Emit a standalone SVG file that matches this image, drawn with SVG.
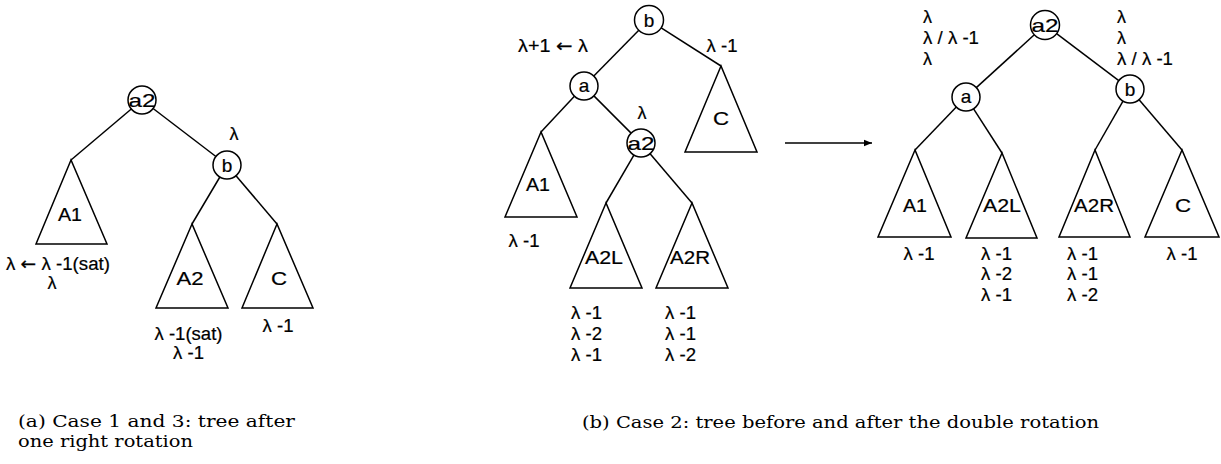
<svg xmlns="http://www.w3.org/2000/svg" width="1221" height="464" viewBox="0 0 1221 464">
<defs>
<marker id="ah" viewBox="0 0 10 10" refX="10" refY="5" markerWidth="8" markerHeight="8" markerUnits="userSpaceOnUse" orient="auto">
<path d="M0,1 L10,5 L0,9 Z" fill="#000"/>
</marker>
<style>
.e{stroke:#000;stroke-width:1.5;fill:none}
.n{stroke:#000;stroke-width:1.5;fill:#fff}
.t{font-family:"Liberation Sans",Arial,sans-serif;font-size:18px;fill:#000;stroke:#000;stroke-width:0.2}
.tn{font-family:"Liberation Sans",Arial,sans-serif;font-size:19px;fill:#000;stroke:#000;stroke-width:0.2;text-anchor:middle}
.m{text-anchor:middle}
.ar{font-family:"DejaVu Sans",sans-serif}
.cap{font-family:"DejaVu Serif","Liberation Serif",serif;font-size:17.5px;fill:#000}
</style>
</defs>
<rect width="1221" height="464" fill="#fff"/>

<g id="connectors">
<line class="e" x1="131.3" y1="109" x2="71" y2="160"/>
<line class="e" x1="153.1" y1="108.5" x2="215.9" y2="156.5"/>
<line class="e" x1="219.9" y1="177" x2="192" y2="224"/>
<line class="e" x1="236" y1="175.7" x2="277" y2="224"/>
<line class="e" x1="638.8" y1="30.3" x2="593.8" y2="76"/>
<line class="e" x1="661.2" y1="27.8" x2="721" y2="66"/>
<line class="e" x1="574.4" y1="96.2" x2="541" y2="132"/>
<line class="e" x1="593.9" y1="95.9" x2="631.1" y2="133.1"/>
<line class="e" x1="633.9" y1="155.1" x2="606" y2="203"/>
<line class="e" x1="650.1" y1="153.7" x2="692" y2="203"/>
<line class="e" x1="785" y1="143" x2="872" y2="143" marker-end="url(#ah)"/>
<line class="e" x1="1034.3" y1="34.8" x2="976.3" y2="87.6"/>
<line class="e" x1="1056.6" y1="33.7" x2="1118.8" y2="80.6"/>
<line class="e" x1="956.3" y1="107.1" x2="915" y2="150"/>
<line class="e" x1="973.6" y1="108.8" x2="1002" y2="153"/>
<line class="e" x1="1123" y1="101.2" x2="1095" y2="150"/>
<line class="e" x1="1139.1" y1="99.7" x2="1182" y2="150"/>
</g>

<g id="a_a2">
<circle class="n" cx="142" cy="100" r="14"/>
<text class="tn" x="142" y="107" textLength="27" lengthAdjust="spacingAndGlyphs">a2</text>
</g>
<g id="a_b">
<circle class="n" cx="227" cy="165" r="14"/>
<text class="tn" x="227" y="172">b</text>
<text class="t m" x="234" y="140">λ</text>
</g>
<g id="a_A1">
<polygon class="n" points="71,160 36,244 107,244"/>
<text class="t m" x="70" y="220.5" textLength="24" lengthAdjust="spacingAndGlyphs">A1</text>
<text class="t m" x="58" y="269.5" textLength="104" lengthAdjust="spacingAndGlyphs">λ <tspan class="ar">←</tspan> λ -1(sat)</text>
<text class="t m" x="52" y="288.5">λ</text>
</g>
<g id="a_A2">
<polygon class="n" points="192,224 156,308 228,308"/>
<text class="t m" x="190" y="284.5" textLength="27" lengthAdjust="spacingAndGlyphs">A2</text>
<text class="t m" x="188.5" y="339.5" textLength="68" lengthAdjust="spacingAndGlyphs">λ -1(sat)</text>
<text class="t m" x="188.5" y="358.5" textLength="31" lengthAdjust="spacingAndGlyphs">λ -1</text>
</g>
<g id="a_C">
<polygon class="n" points="277,224 242,308 313,308"/>
<text class="t m" x="279" y="284.5" textLength="16" lengthAdjust="spacingAndGlyphs">C</text>
<text class="t m" x="278" y="331.5" textLength="31" lengthAdjust="spacingAndGlyphs">λ -1</text>
</g>

<g id="b_b">
<circle class="n" cx="649" cy="20" r="14.5"/>
<text class="tn" x="649" y="27">b</text>
<text class="t m" x="553" y="51.5" textLength="70" lengthAdjust="spacingAndGlyphs">λ+1 <tspan class="ar">←</tspan> λ</text>
</g>
<g id="b_a">
<circle class="n" cx="584" cy="86" r="14"/>
<text class="tn" x="584" y="91.5">a</text>
</g>
<g id="b_a2">
<circle class="n" cx="641" cy="143" r="14"/>
<text class="tn" x="641" y="150" textLength="27" lengthAdjust="spacingAndGlyphs">a2</text>
<text class="t m" x="642" y="118.5">λ</text>
</g>
<g id="b_C">
<polygon class="n" points="721,66 685,152 757,152"/>
<text class="t m" x="721" y="124.5" textLength="16" lengthAdjust="spacingAndGlyphs">C</text>
<text class="t m" x="722" y="51.5" textLength="31" lengthAdjust="spacingAndGlyphs">λ -1</text>
</g>
<g id="b_A1">
<polygon class="n" points="541,132 505,217 577,217"/>
<text class="t m" x="538" y="190.5" textLength="24" lengthAdjust="spacingAndGlyphs">A1</text>
<text class="t m" x="524" y="246.5" textLength="31" lengthAdjust="spacingAndGlyphs">λ -1</text>
</g>
<g id="b_A2L">
<polygon class="n" points="606,203 570,288 642,288"/>
<text class="t m" x="604" y="263.5" textLength="38" lengthAdjust="spacingAndGlyphs">A2L</text>
<text class="t" x="571" y="318.5" textLength="31" lengthAdjust="spacingAndGlyphs">λ -1</text>
<text class="t" x="571" y="339.5" textLength="31" lengthAdjust="spacingAndGlyphs">λ -2</text>
<text class="t" x="571" y="360.5" textLength="31" lengthAdjust="spacingAndGlyphs">λ -1</text>
</g>
<g id="b_A2R">
<polygon class="n" points="692,203 656,288 728,288"/>
<text class="t m" x="690" y="263.5" textLength="40" lengthAdjust="spacingAndGlyphs">A2R</text>
<text class="t" x="665" y="318.5" textLength="31" lengthAdjust="spacingAndGlyphs">λ -1</text>
<text class="t" x="665" y="339.5" textLength="31" lengthAdjust="spacingAndGlyphs">λ -1</text>
<text class="t" x="665" y="360.5" textLength="31" lengthAdjust="spacingAndGlyphs">λ -2</text>
</g>

<g id="c_a2">
<circle class="n" cx="1045" cy="25" r="14.5"/>
<text class="tn" x="1045" y="32" textLength="27" lengthAdjust="spacingAndGlyphs">a2</text>
<text class="t" x="923" y="22.5">λ</text>
<text class="t" x="923" y="43.5" textLength="56" lengthAdjust="spacingAndGlyphs">λ / λ -1</text>
<text class="t" x="923" y="64.5">λ</text>
<text class="t" x="1117" y="22.5">λ</text>
<text class="t" x="1117" y="43.5">λ</text>
<text class="t" x="1117" y="64.5" textLength="56" lengthAdjust="spacingAndGlyphs">λ / λ -1</text>
</g>
<g id="c_a">
<circle class="n" cx="966" cy="97" r="14"/>
<text class="tn" x="966" y="102.5">a</text>
</g>
<g id="c_b">
<circle class="n" cx="1130" cy="89" r="14"/>
<text class="tn" x="1130" y="96">b</text>
</g>
<g id="c_A1">
<polygon class="n" points="915,150 878,237 951,237"/>
<text class="t m" x="915" y="211.5" textLength="24" lengthAdjust="spacingAndGlyphs">A1</text>
<text class="t m" x="919" y="259.5" textLength="31" lengthAdjust="spacingAndGlyphs">λ -1</text>
</g>
<g id="c_A2L">
<polygon class="n" points="1002,153 966,238 1037,238"/>
<text class="t m" x="1002" y="211.5" textLength="38" lengthAdjust="spacingAndGlyphs">A2L</text>
<text class="t" x="981" y="259.5" textLength="31" lengthAdjust="spacingAndGlyphs">λ -1</text>
<text class="t" x="981" y="279.5" textLength="31" lengthAdjust="spacingAndGlyphs">λ -2</text>
<text class="t" x="981" y="300.5" textLength="31" lengthAdjust="spacingAndGlyphs">λ -1</text>
</g>
<g id="c_A2R">
<polygon class="n" points="1095,150 1059,237 1130,237"/>
<text class="t m" x="1094" y="211.5" textLength="40" lengthAdjust="spacingAndGlyphs">A2R</text>
<text class="t" x="1067" y="259.5" textLength="31" lengthAdjust="spacingAndGlyphs">λ -1</text>
<text class="t" x="1067" y="279.5" textLength="31" lengthAdjust="spacingAndGlyphs">λ -1</text>
<text class="t" x="1067" y="300.5" textLength="31" lengthAdjust="spacingAndGlyphs">λ -2</text>
</g>
<g id="c_C">
<polygon class="n" points="1182,150 1145,237 1219,237"/>
<text class="t m" x="1183" y="211.5" textLength="16" lengthAdjust="spacingAndGlyphs">C</text>
<text class="t m" x="1182" y="259.5" textLength="31" lengthAdjust="spacingAndGlyphs">λ -1</text>
</g>

<g id="captions">
<text class="cap" x="18" y="427" textLength="277" lengthAdjust="spacingAndGlyphs">(a) Case 1 and 3: tree after</text>
<text class="cap" x="18" y="447" textLength="175" lengthAdjust="spacingAndGlyphs">one right rotation</text>
<text class="cap" x="582" y="428" textLength="517" lengthAdjust="spacingAndGlyphs">(b) Case 2: tree before and after the double rotation</text>
</g>
</svg>
